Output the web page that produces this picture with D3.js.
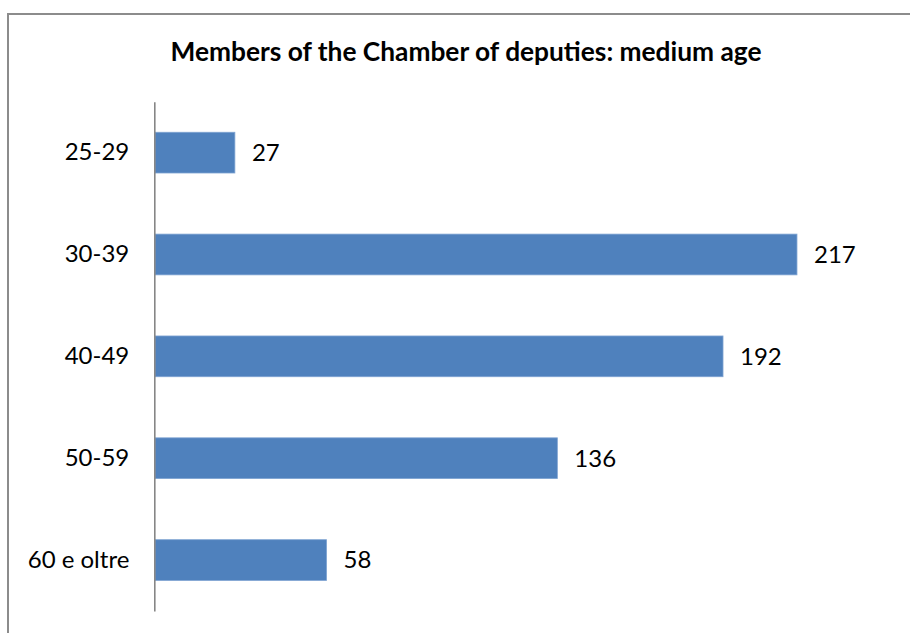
<!DOCTYPE html>
<html>
<head>
<meta charset="utf-8">
<script src="https://cdn.jsdelivr.net/npm/d3@7"></script>
<style>
  html, body { margin: 0; padding: 0; background: #fff; }
  svg { display: block; }
  text { font-family: Lato, "Open Sans", sans-serif; fill: #000; }
</style>
</head>
<body>
<div id="chart"></div>
<script>
// Age bands and number of deputies in each
const ageBands = ["25-29", "30-39", "40-49", "50-59", "60 e oltre"];
const deputies = [27, 217, 192, 136, 58];
const chartTitle = "Members of the Chamber of deputies: medium age";

const W = 910, H = 633;
const svg = d3.select("#chart").append("svg")
  .attr("width", W).attr("height", H);

// Chart area frame (top and left edges)
svg.append("path")
  .attr("d", "M8,633 V14 H910")
  .attr("fill", "none")
  .attr("stroke", "#8c8c8c")
  .attr("stroke-width", 2);

// Title
svg.append("text")
  .attr("x", 466).attr("y", 61)
  .attr("text-anchor", "middle")
  .style("font-weight", "bold")
  .style("font-size", "26.3px")
  .text(chartTitle);

const y = d3.scaleBand()
  .domain(ageBands)
  .range([101.7, 611])
  .paddingInner(0.6)
  .paddingOuter(0.3);

const x = d3.scaleLinear()
  .domain([0, 250])
  .range([155, 894.6]);

const rows = ageBands.map((band, i) => ({ band, value: deputies[i] }));

// Bars
svg.append("g").selectAll("rect")
  .data(rows)
  .join("rect")
  .attr("x", x(0))
  .attr("y", d => y(d.band))
  .attr("width", d => x(d.value) - x(0))
  .attr("height", y.bandwidth())
  .attr("fill", "#4f81bd")
  .attr("stroke", "#7ea3d2")
  .attr("stroke-width", 0.8);

// Category axis
const axis = svg.append("g")
  .attr("transform", "translate(154.3,0)")
  .call(d3.axisLeft(y).tickSize(0).tickPadding(25));
axis.select(".domain")
  .attr("stroke", "#868686")
  .attr("stroke-width", 1.6);
axis.selectAll("text")
  .style("font-family", "Lato, 'Open Sans', sans-serif")
  .style("font-size", "24px")
  .attr("fill", "#000");

// Value labels
svg.append("g").selectAll("text")
  .data(rows)
  .join("text")
  .attr("x", d => x(d.value) + 17)
  .attr("y", d => y(d.band) + y.bandwidth() / 2)
  .attr("dy", "0.35em")
  .style("font-size", "24px")
  .text(d => d.value);
</script>
</body>
</html>
